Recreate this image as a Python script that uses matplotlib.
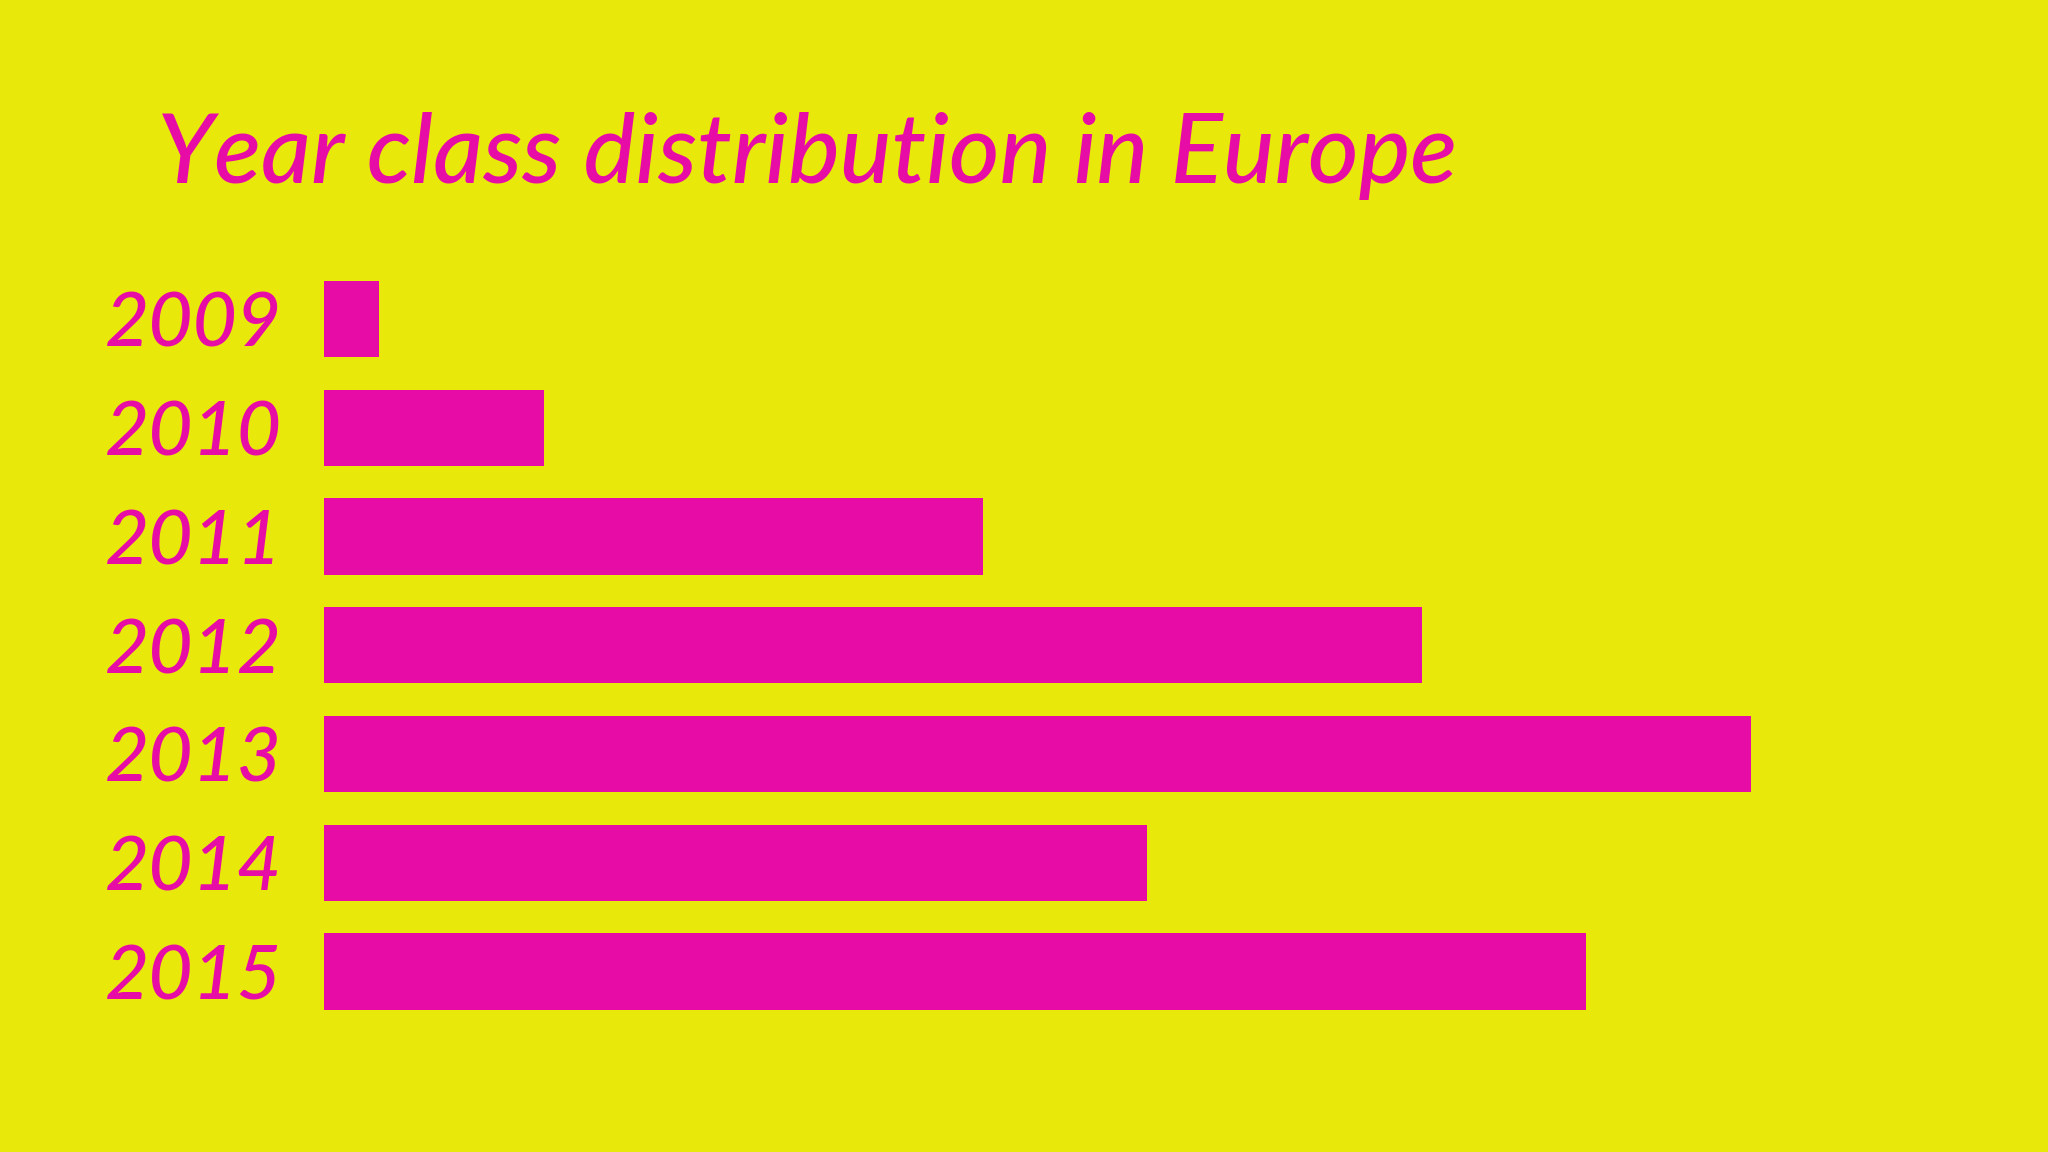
import matplotlib
matplotlib.use("Agg")
import matplotlib.pyplot as plt

years = ["2009", "2010", "2011", "2012", "2013", "2014", "2015"]
values = [1, 4, 12, 20, 26, 15, 23]
title = "Year class distribution in Europe"

BG = "#E9E80B"
MAG = "#E80CA6"

fig = plt.figure(figsize=(20.48, 11.52), dpi=100, facecolor=BG)
ax = fig.add_axes([0.1582, 0.1095, 0.804, 0.6608])
ax.set_facecolor(BG)
pos = list(range(len(years)))
ax.barh(pos, values, height=0.70, color=MAG, align="center")
ax.set_xlim(0, 30)
ax.set_ylim(6.5, -0.5)
ax.set_yticks(pos)
ax.set_yticklabels(years, fontfamily="Lato", fontstyle="italic", fontweight="medium",
                   fontsize=55, color=MAG)
ax.tick_params(axis="y", length=0, pad=30)
ax.set_xticks([])
for s in ax.spines.values():
    s.set_visible(False)

fig.text(157 / 2048, 1 - 183 / 1152, title, fontfamily="Lato", fontstyle="italic",
         fontweight="medium", fontsize=70, color=MAG, ha="left", va="baseline")

fig.savefig("out.png", dpi=100, facecolor=BG)
